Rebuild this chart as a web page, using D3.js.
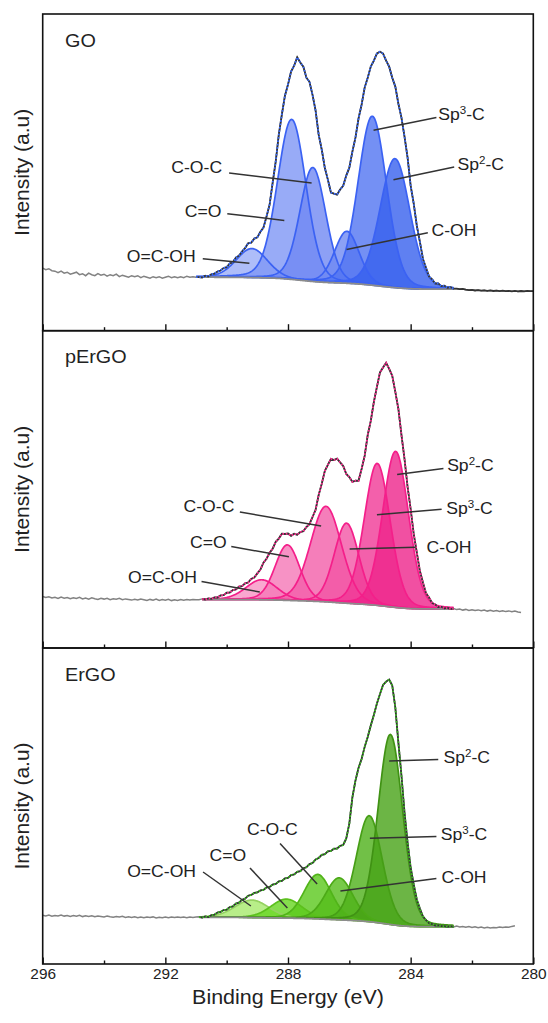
<!DOCTYPE html>
<html>
<head>
<meta charset="utf-8">
<title>C1s XPS fits</title>
<script src="https://d3js.org/d3.v7.min.js"></script>
<style>
  body { margin: 0; background: #fff; }
  text { font-family: "Liberation Sans", Arial, Helvetica, sans-serif; fill: #222; }
</style>
</head>
<body>
<script>
// measured spectra, one value every 0.1 eV starting at 296 eV (a.u.)
const energyStart = 296, energyStep = 0.1;

const goRaw = [
  62.5, 61.0, 62.0, 60.0, 59.5, 58.0, 59.5, 57.5, 58.5, 56.5,
  57.5, 58.5, 56.0, 57.0, 55.0, 57.5, 56.0, 55.0, 57.0, 55.5,
  56.5, 54.5, 56.0, 55.0, 56.5, 54.0, 55.5, 54.5, 53.5, 55.0,
  54.0, 55.0, 53.0, 54.5, 53.5, 52.5, 54.0, 53.0, 54.0, 52.5,
  53.5, 54.5, 53.0, 54.0, 53.0, 54.0, 53.0, 54.5, 53.5, 54.0,
  53.5,
  53.6, 53.2, 54.9, 54.1, 56.4, 57.0, 59.1, 60.2, 62.6, 63.5,
  67.2, 68.4, 73.1, 75.0, 79.2, 82.6, 87.5, 88.0, 92.1, 93.3,
  98.9, 103.1, 114.2, 126.1, 148.0, 169.2, 196.1, 216.2, 235.0, 246.1,
  259.2, 265.0, 273.4, 268.2, 264.1, 253.0, 248.9, 235.8, 220.1, 196.0,
  181.2, 163.0, 151.1, 138.2, 137.0, 136.1, 141.2, 145.0, 155.1, 163.0,
  179.1, 193.0, 212.2, 226.0, 243.1, 253.0, 264.2, 270.1, 277.2, 279.0,
  277.1, 270.0, 264.0, 253.0, 244.1, 227.0, 213.1, 194.0, 173.2, 145.0,
  127.1, 105.0, 89.1, 72.0, 63.0, 54.1, 51.4, 47.2, 47.3, 44.6,
  45.0, 43.0, 43.6, 42.0,
  42.0, 41.5, 41.8, 41.0, 40.6, 40.9, 40.2, 40.6, 40.0, 40.4,
  39.8, 40.3, 39.7, 40.1, 39.6, 40.0, 39.5, 39.9, 39.4, 39.8,
  39.3, 39.7, 39.4, 39.8, 39.5, 39.6
];

const pergoRaw = [
  51.5, 50.5, 51.2, 50.0, 50.8, 49.6, 50.9, 49.8, 50.5, 49.2,
  50.3, 49.5, 50.6, 49.0, 49.9, 48.8, 50.1, 49.2, 48.6, 49.7,
  48.9, 49.8, 48.4, 49.3, 48.7, 49.6, 48.2, 49.1, 48.5, 47.9,
  48.8, 48.0, 49.0, 48.3, 47.6, 48.6, 47.8, 48.9, 47.5, 48.4,
  47.7, 48.6, 47.4, 48.2, 47.6, 48.5, 47.8, 48.4, 47.9, 48.6,
  48.3,
  48.2, 49.1, 48.5, 49.6, 49.1, 50.6, 50.5, 52.6, 52.8, 55.3,
  55.5, 57.9, 58.5, 61.3, 61.8, 64.6, 65.5, 69.1, 70.5, 74.6,
  78.4, 85.4, 89.3, 95.2, 99.3, 106.2, 109.4, 114.3, 114.0, 114.5,
  112.2, 114.3, 113.2, 115.9, 116.8, 121.0, 123.8, 131.0, 138.2, 153.0,
  164.1, 177.0, 183.1, 189.2, 188.0, 189.3, 185.6, 182.0, 174.1, 170.9,
  166.1, 167.4, 167.2, 179.0, 192.1, 213.0, 227.1, 246.0, 261.1, 275.6,
  280.5, 285.2, 279.1, 272.2, 256.1, 239.0, 213.1, 189.0, 161.1, 139.0,
  114.1, 95.6, 77.2, 65.5, 54.8, 50.4, 45.0, 43.6, 41.0, 41.2,
  39.6, 40.2, 38.9, 39.4,
  38.4, 39.0, 37.9, 38.6, 37.6, 38.3, 37.5, 38.1, 37.2, 37.9,
  36.9, 37.7, 36.8, 37.4, 36.6, 37.3, 36.4, 37.1, 36.2, 36.9,
  36.0, 35.4
];

const ergoRaw = [
  48.8, 48.0, 48.9, 47.8, 48.6, 48.1, 49.0, 47.9, 48.5, 47.6,
  48.4, 47.7, 48.6, 47.4, 48.2, 47.5, 48.3, 47.2, 48.0, 47.6,
  47.1, 47.9, 47.3, 46.8, 47.6, 47.0, 47.7, 46.6, 47.3, 46.5,
  47.2, 46.3, 47.0, 46.2, 46.9, 46.4, 47.1, 46.1, 46.8, 46.3,
  47.0, 46.2, 46.9, 46.4, 47.1, 46.5, 46.9, 46.3, 47.0, 46.6,
  46.9,
  47.2, 46.4, 47.6, 46.9, 48.8, 49.3, 51.5, 52.0, 54.0, 54.3,
  56.9, 57.6, 60.4, 61.3, 64.2, 65.3, 68.3, 69.0, 71.1, 71.6,
  73.6, 74.0, 76.6, 77.0, 79.5, 80.0, 82.6, 83.0, 85.6, 86.1,
  88.9, 89.5, 92.2, 92.8, 95.8, 96.7, 99.9, 101.0, 104.5, 106.0,
  109.1, 109.8, 112.6, 113.0, 115.3, 115.5, 118.1, 119.0, 125.6, 140.4,
  166.6, 183.4, 196.1, 205.0, 217.1, 227.0, 238.6, 249.0, 260.5, 270.0,
  279.0, 282.4, 284.5, 278.5, 256.5, 221.4, 188.5, 151.5, 121.5, 96.5,
  79.5, 64.5, 55.5, 47.6, 43.9, 40.7, 40.0, 38.5, 38.6, 37.8,
  37.9, 37.1, 37.8, 37.0,
  37.9, 37.0, 37.6, 36.8, 37.4, 36.5, 37.2, 36.3, 36.9, 36.1,
  36.8, 36.0, 36.6, 36.2, 36.9, 36.4, 37.1, 36.7, 37.6, 38.2
];

// fitted components (Gaussian-Lorentzian), same order in every panel
const peakNames = ["O=C-OH", "C=O", "C-O-C", "C-OH", "Sp3-C", "Sp2-C"];
const glMix = 0.15;

const goCenters = [289.18, 287.88, 287.19, 286.08, 285.25, 284.51];
const goHeights = [29, 160, 114, 52, 169, 129];
const goWidths  = [1.2, 1.1, 1.0, 0.95, 1.1, 1.15];
const goBackground = [53.5, 41.5];   // high-BE level, low-BE level
const goFitRange = [291.0, 282.6];

const pergoCenters = [288.86, 288.02, 286.76, 286.09, 285.09, 284.49];
const pergoHeights = [20, 55.5, 95.5, 80, 142, 156];
const pergoWidths  = [1.2, 0.95, 1.2, 0.95, 1.0, 1.0];
const pergoBackground = [48.5, 39.0];
const pergoFitRange = [290.8, 282.6];

const ergoCenters = [289.18, 288.05, 287.03, 286.33, 285.35, 284.66];
const ergoHeights = [17.5, 19, 44.5, 42, 106, 190];
const ergoWidths  = [1.3, 1.2, 1.05, 1.05, 1.0, 0.95];
const ergoBackground = [46.7, 37.3];
const ergoFitRange = [290.9, 282.6];

const majorTicks = [296, 292, 288, 284, 280];
const minorTicks = [294, 290, 286, 282];

// ---------------- layout ----------------
const W = 548, H = 1023;
const left = 42.7, right = 533.3;
const panelTops = [14, 330.7, 648];
const panelBottoms = [330.7, 648, 964];

const svg = d3.select("body").append("svg").attr("width", W).attr("height", H);
const x = d3.scaleLinear().domain([296, 280]).range([left, right]);

const panels = [
  { title: "GO", raw: goRaw, centers: goCenters, heights: goHeights, widths: goWidths,
    bg: goBackground, fit: goFitRange, darkTo: 280,
    fills: ["#9aacf7", "#7e96f5", "#7088f3", "#6f89f3", "#5174f1", "#3760ee"],
    stroke: "#3b62f3", env: "#3a6cff",
    labels: [
      { k: 4, side: "start", tx: 283.10, th: 216.5, e1: 283.16, h1: 213.2, e2: 285.21, h2: 200.5 },
      { k: 5, side: "start", tx: 282.47, th: 166.4, e1: 282.58, h1: 163.7, e2: 284.56, h2: 151.0 },
      { k: 3, side: "start", tx: 283.32, th: 100.3, e1: 283.44, h1: 97.9, e2: 286.09, h2: 81.2 },
      { k: 2, side: "end", tx: 290.15, th: 163.7, e1: 289.92, h1: 157.7, e2: 287.23, h2: 147.7 },
      { k: 1, side: "end", tx: 290.17, th: 119.7, e1: 289.98, h1: 117.0, e2: 288.12, h2: 110.3 },
      { k: 0, side: "end", tx: 291.01, th: 74.2, e1: 290.78, h1: 71.9, e2: 289.26, h2: 67.5 }
    ] },
  { title: "pErGO", raw: pergoRaw, centers: pergoCenters, heights: pergoHeights, widths: pergoWidths,
    bg: pergoBackground, fit: pergoFitRange, darkTo: 282.6,
    fills: ["#f792c4", "#f577b6", "#f35ea9", "#f255a5", "#f03896", "#ee248b"],
    stroke: "#f41f8a", env: "#ff2e93",
    labels: [
      { k: 5, side: "start", tx: 282.81, th: 183.0, e1: 282.93, h1: 179.6, e2: 284.44, h2: 173.6 },
      { k: 4, side: "start", tx: 282.84, th: 140.0, e1: 282.99, h1: 138.7, e2: 285.10, h2: 133.3 },
      { k: 3, side: "start", tx: 283.48, th: 100.7, e1: 283.84, h1: 100.7, e2: 285.99, h2: 99.0 },
      { k: 2, side: "end", tx: 289.75, th: 142.0, e1: 289.57, h1: 136.0, e2: 286.92, h2: 122.0 },
      { k: 1, side: "end", tx: 290.00, th: 105.7, e1: 289.85, h1: 101.4, e2: 287.97, h2: 91.3 },
      { k: 0, side: "end", tx: 290.97, th: 70.5, e1: 290.82, h1: 66.5, e2: 288.92, h2: 56.0 }
    ] },
  { title: "ErGO", raw: ergoRaw, centers: ergoCenters, heights: ergoHeights, widths: ergoWidths,
    bg: ergoBackground, fit: ergoFitRange, darkTo: 282.6,
    fills: ["#a6ea6c", "#66d620", "#5ac81c", "#55bd1a", "#4eb019", "#47a316"],
    stroke: null, env: "#3dbb22",
    labels: [
      { k: 5, side: "start", tx: 282.93, th: 207.0, e1: 283.10, h1: 204.6, e2: 284.70, h2: 203.0 },
      { k: 4, side: "start", tx: 283.02, th: 130.0, e1: 283.16, h1: 127.5, e2: 285.33, h2: 125.8 },
      { k: 3, side: "start", tx: 282.99, th: 87.0, e1: 283.16, h1: 85.5, e2: 286.29, h2: 73.0 },
      { k: 2, side: "middle", tx: 288.51, th: 135.0, e1: 288.26, h1: 120.5, e2: 287.05, h2: 80.0 },
      { k: 1, side: "middle", tx: 289.96, th: 109.0, e1: 289.24, h1: 96.0, e2: 288.02, h2: 56.0 },
      { k: 0, side: "end", tx: 291.00, th: 93.0, e1: 290.77, h1: 92.0, e2: 289.21, h2: 58.0 }
    ] }
];

function peak(e, c, a, w) {
  const d = e - c, q = 4 * d * d / (w * w);
  return a * ((1 - glMix) * Math.exp(-Math.LN2 * q) + glMix / (1 + q));
}

// horizontal text, drawn slightly wide like the original figure
function hText(g, px, py, str, size, anchor) {
  return g.append("text")
    .attr("transform", `translate(${px},${py}) scale(1.1,1)`)
    .attr("text-anchor", anchor || "start")
    .style("font-size", size + "px")
    .text(str);
}

function peakLabel(g, px, py, name, anchor) {
  const t = g.append("text")
    .attr("transform", `translate(${px},${py}) scale(1.1,1)`)
    .attr("text-anchor", anchor)
    .style("font-size", "16px");
  const m = name.match(/^Sp(\d)(.*)$/);
  if (m) {
    t.append("tspan").text("Sp");
    t.append("tspan").attr("dy", -6).style("font-size", "10.5px").text(m[1]);
    t.append("tspan").attr("dy", 6).text(m[2]);
  } else {
    t.text(name);
  }
}

panels.forEach((p, idx) => {
  const top = panelTops[idx], bottom = panelBottoms[idx];
  const y = d3.scaleLinear().domain([0, bottom - top]).range([bottom, top]);
  const g = svg.append("g");

  // components on a fine energy grid inside the fit window
  const step = 0.02;
  const n = Math.round((p.fit[0] - p.fit[1]) / step) + 1;
  const grid = d3.range(n).map(i => p.fit[0] - i * step);
  const comps = p.centers.map((c, k) => grid.map(e => peak(e, c, p.heights[k], p.widths[k])));
  const total = grid.map((e, i) => d3.sum(comps, cp => cp[i]));

  // Shirley background between the two measured levels
  let acc = 0;
  const cum = new Array(n);
  for (let i = n - 1; i >= 0; i--) { acc += total[i]; cum[i] = acc; }
  const bgLine = cum.map(v => p.bg[1] + (p.bg[0] - p.bg[1]) * v / acc);

  comps.forEach((cp, k) => {
    const area = d3.area()
      .x((d, i) => x(grid[i]))
      .y0((d, i) => y(bgLine[i]))
      .y1((d, i) => y(bgLine[i] + d));
    g.append("path").datum(cp).attr("d", area)
      .attr("fill", p.fills[k]).attr("fill-opacity", 0.8);
  });
  comps.forEach((cp, k) => {
    const line = d3.line()
      .x((d, i) => x(grid[i]))
      .y((d, i) => y(bgLine[i] + d));
    const col = p.stroke || d3.color(p.fills[k]).darker(0.3).formatHex();
    g.append("path").datum(cp).attr("d", line)
      .attr("fill", "none").attr("stroke", col).attr("stroke-width", 1.7);
  });

  // background
  g.append("path").datum(bgLine)
    .attr("d", d3.line().x((d, i) => x(grid[i])).y(d => y(d)))
    .attr("fill", "none").attr("stroke", "#8c8c8c").attr("stroke-width", 1.8);

  // measured spectrum: grey outside the fit window, dark inside
  const pts = p.raw.map((v, i) => [energyStart - i * energyStep, v]);
  const rawLine = d3.line().x(d => x(d[0])).y(d => y(d[1]));
  const inFit = pts.filter(d => d[0] <= p.fit[0] + 1e-6 && d[0] >= p.darkTo - 1e-6);
  g.append("path").datum(pts).attr("d", rawLine)
    .attr("fill", "none").attr("stroke", "#828282").attr("stroke-width", 1.5);
  g.append("path").datum(inFit).attr("d", rawLine)
    .attr("fill", "none").attr("stroke", "#333").attr("stroke-width", 1.8);

  // cumulative fit, dotted over the data
  g.append("path").datum(inFit.filter(d => d[0] >= p.fit[1] - 1e-6))
    .attr("d", rawLine)
    .attr("fill", "none").attr("stroke", p.env).attr("stroke-width", 1.8)
    .attr("stroke-dasharray", "1.6,1.8");

  // peak labels with leader lines
  p.labels.forEach(l => {
    g.append("line")
      .attr("x1", x(l.e1)).attr("y1", y(l.h1))
      .attr("x2", x(l.e2)).attr("y2", y(l.h2))
      .attr("stroke", "#333").attr("stroke-width", 1.5);
    peakLabel(g, x(l.tx), y(l.th) + 5.6, peakNames[l.k], l.side);
  });

  hText(g, 65, top + 32.5, p.title, 18);

  g.append("text")
    .attr("transform", `translate(29,${(top + bottom) / 2}) rotate(-90)`)
    .attr("text-anchor", "middle")
    .style("font-size", "21px")
    .text("Intensity (a.u)");

  // inward ticks on the bottom edge
  g.append("g").attr("transform", `translate(0,${bottom})`)
    .call(d3.axisTop(x).tickValues(majorTicks).tickSize(6.5).tickFormat(""))
    .call(a => a.select(".domain").remove())
    .call(a => a.selectAll("line").attr("stroke", "#111").attr("stroke-width", 1.4));
  g.append("g").attr("transform", `translate(0,${bottom})`)
    .call(d3.axisTop(x).tickValues(minorTicks).tickSize(3.5).tickFormat(""))
    .call(a => a.select(".domain").remove())
    .call(a => a.selectAll("line").attr("stroke", "#111").attr("stroke-width", 1.4));

  g.append("rect")
    .attr("x", left).attr("y", top)
    .attr("width", right - left).attr("height", bottom - top)
    .attr("fill", "none").attr("stroke", "#111").attr("stroke-width", 1.6);
});

// x tick labels and title under the last panel
const xAxis = svg.append("g").attr("transform", `translate(0,${panelBottoms[2]})`)
  .call(d3.axisBottom(x).tickValues(majorTicks).tickSize(0).tickPadding(4.6).tickFormat(d3.format("d")));
xAxis.select(".domain").remove();
xAxis.selectAll("text")
  .attr("transform", "scale(1.1,1)")
  .style("font-size", "14px")
  .style("font-family", '"Liberation Sans", Arial, sans-serif')
  .attr("fill", "#222");

hText(svg, (left + right) / 2, 1004, "Binding Energy (eV)", 19.5, "middle");
</script>
</body>
</html>
